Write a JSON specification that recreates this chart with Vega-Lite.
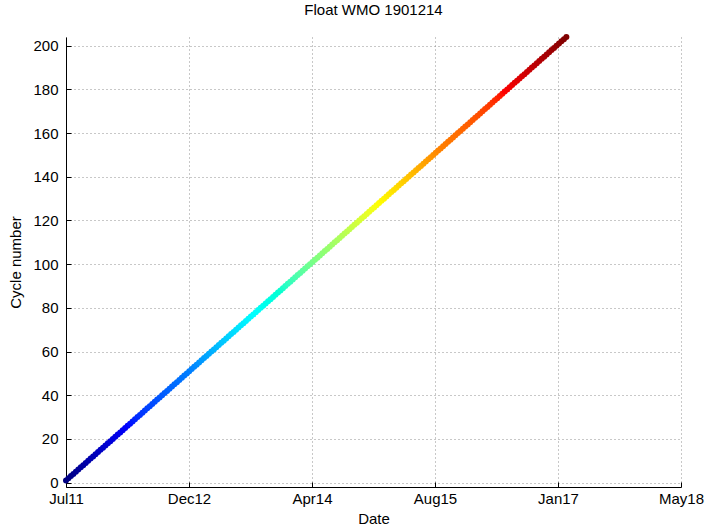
{
 "$schema": "https://vega.github.io/schema/vega-lite/v6.json",
 "width": 615,
 "height": 450,
 "autosize": {"type": "none"},
 "padding": {"left": 66, "top": 37, "right": 31, "bottom": 43},
 "background": "white",
 "title": {"text": "Float WMO 1901214", "fontSize": 15, "fontWeight": "normal", "font": "Liberation Sans", "color": "black", "offset": 16},
 "config": {
  "view": {"stroke": null},
  "axis": {
   "domainColor": "black", "domainWidth": 1,
   "tickColor": "black", "tickSize": -5, "tickWidth": 1,
   "labelFont": "Liberation Sans", "labelFontSize": 15, "labelColor": "black",
   "titleFont": "Liberation Sans", "titleFontSize": 15, "titleFontWeight": "normal", "titleColor": "black",
   "grid": true, "gridColor": "#909090", "gridDash": [1, 3], "gridOpacity": 1, "gridWidth": 1
  }
 },
 "data": {"values": [
  {"date": "2011-07-22", "cycle": 1},
  {"date": "2011-08-01", "cycle": 2},
  {"date": "2011-08-11", "cycle": 3},
  {"date": "2011-08-21", "cycle": 4},
  {"date": "2011-08-31", "cycle": 5},
  {"date": "2011-09-10", "cycle": 6},
  {"date": "2011-09-20", "cycle": 7},
  {"date": "2011-09-30", "cycle": 8},
  {"date": "2011-10-10", "cycle": 9},
  {"date": "2011-10-20", "cycle": 10},
  {"date": "2011-10-30", "cycle": 11},
  {"date": "2011-11-09", "cycle": 12},
  {"date": "2011-11-19", "cycle": 13},
  {"date": "2011-11-29", "cycle": 14},
  {"date": "2011-12-09", "cycle": 15},
  {"date": "2011-12-19", "cycle": 16},
  {"date": "2011-12-29", "cycle": 17},
  {"date": "2012-01-08", "cycle": 18},
  {"date": "2012-01-18", "cycle": 19},
  {"date": "2012-01-28", "cycle": 20},
  {"date": "2012-02-07", "cycle": 21},
  {"date": "2012-02-17", "cycle": 22},
  {"date": "2012-02-27", "cycle": 23},
  {"date": "2012-03-08", "cycle": 24},
  {"date": "2012-03-18", "cycle": 25},
  {"date": "2012-03-28", "cycle": 26},
  {"date": "2012-04-07", "cycle": 27},
  {"date": "2012-04-17", "cycle": 28},
  {"date": "2012-04-27", "cycle": 29},
  {"date": "2012-05-07", "cycle": 30},
  {"date": "2012-05-17", "cycle": 31},
  {"date": "2012-05-27", "cycle": 32},
  {"date": "2012-06-06", "cycle": 33},
  {"date": "2012-06-16", "cycle": 34},
  {"date": "2012-06-26", "cycle": 35},
  {"date": "2012-07-06", "cycle": 36},
  {"date": "2012-07-16", "cycle": 37},
  {"date": "2012-07-26", "cycle": 38},
  {"date": "2012-08-05", "cycle": 39},
  {"date": "2012-08-15", "cycle": 40},
  {"date": "2012-08-25", "cycle": 41},
  {"date": "2012-09-04", "cycle": 42},
  {"date": "2012-09-14", "cycle": 43},
  {"date": "2012-09-24", "cycle": 44},
  {"date": "2012-10-04", "cycle": 45},
  {"date": "2012-10-14", "cycle": 46},
  {"date": "2012-10-24", "cycle": 47},
  {"date": "2012-11-03", "cycle": 48},
  {"date": "2012-11-13", "cycle": 49},
  {"date": "2012-11-23", "cycle": 50},
  {"date": "2012-12-03", "cycle": 51},
  {"date": "2012-12-13", "cycle": 52},
  {"date": "2012-12-23", "cycle": 53},
  {"date": "2013-01-02", "cycle": 54},
  {"date": "2013-01-12", "cycle": 55},
  {"date": "2013-01-22", "cycle": 56},
  {"date": "2013-02-01", "cycle": 57},
  {"date": "2013-02-11", "cycle": 58},
  {"date": "2013-02-21", "cycle": 59},
  {"date": "2013-03-03", "cycle": 60},
  {"date": "2013-03-13", "cycle": 61},
  {"date": "2013-03-23", "cycle": 62},
  {"date": "2013-04-02", "cycle": 63},
  {"date": "2013-04-12", "cycle": 64},
  {"date": "2013-04-22", "cycle": 65},
  {"date": "2013-05-02", "cycle": 66},
  {"date": "2013-05-12", "cycle": 67},
  {"date": "2013-05-22", "cycle": 68},
  {"date": "2013-06-01", "cycle": 69},
  {"date": "2013-06-11", "cycle": 70},
  {"date": "2013-06-21", "cycle": 71},
  {"date": "2013-07-01", "cycle": 72},
  {"date": "2013-07-11", "cycle": 73},
  {"date": "2013-07-21", "cycle": 74},
  {"date": "2013-07-31", "cycle": 75},
  {"date": "2013-08-10", "cycle": 76},
  {"date": "2013-08-20", "cycle": 77},
  {"date": "2013-08-30", "cycle": 78},
  {"date": "2013-09-09", "cycle": 79},
  {"date": "2013-09-19", "cycle": 80},
  {"date": "2013-09-29", "cycle": 81},
  {"date": "2013-10-09", "cycle": 82},
  {"date": "2013-10-19", "cycle": 83},
  {"date": "2013-10-29", "cycle": 84},
  {"date": "2013-11-08", "cycle": 85},
  {"date": "2013-11-18", "cycle": 86},
  {"date": "2013-11-28", "cycle": 87},
  {"date": "2013-12-08", "cycle": 88},
  {"date": "2013-12-18", "cycle": 89},
  {"date": "2013-12-28", "cycle": 90},
  {"date": "2014-01-07", "cycle": 91},
  {"date": "2014-01-17", "cycle": 92},
  {"date": "2014-01-27", "cycle": 93},
  {"date": "2014-02-06", "cycle": 94},
  {"date": "2014-02-16", "cycle": 95},
  {"date": "2014-02-26", "cycle": 96},
  {"date": "2014-03-08", "cycle": 97},
  {"date": "2014-03-18", "cycle": 98},
  {"date": "2014-03-28", "cycle": 99},
  {"date": "2014-04-07", "cycle": 100},
  {"date": "2014-04-17", "cycle": 101},
  {"date": "2014-04-27", "cycle": 102},
  {"date": "2014-05-07", "cycle": 103},
  {"date": "2014-05-17", "cycle": 104},
  {"date": "2014-05-27", "cycle": 105},
  {"date": "2014-06-06", "cycle": 106},
  {"date": "2014-06-16", "cycle": 107},
  {"date": "2014-06-26", "cycle": 108},
  {"date": "2014-07-06", "cycle": 109},
  {"date": "2014-07-16", "cycle": 110},
  {"date": "2014-07-26", "cycle": 111},
  {"date": "2014-08-05", "cycle": 112},
  {"date": "2014-08-15", "cycle": 113},
  {"date": "2014-08-25", "cycle": 114},
  {"date": "2014-09-04", "cycle": 115},
  {"date": "2014-09-14", "cycle": 116},
  {"date": "2014-09-24", "cycle": 117},
  {"date": "2014-10-04", "cycle": 118},
  {"date": "2014-10-14", "cycle": 119},
  {"date": "2014-10-24", "cycle": 120},
  {"date": "2014-11-03", "cycle": 121},
  {"date": "2014-11-13", "cycle": 122},
  {"date": "2014-11-23", "cycle": 123},
  {"date": "2014-12-03", "cycle": 124},
  {"date": "2014-12-13", "cycle": 125},
  {"date": "2014-12-23", "cycle": 126},
  {"date": "2015-01-02", "cycle": 127},
  {"date": "2015-01-12", "cycle": 128},
  {"date": "2015-01-22", "cycle": 129},
  {"date": "2015-02-01", "cycle": 130},
  {"date": "2015-02-11", "cycle": 131},
  {"date": "2015-02-21", "cycle": 132},
  {"date": "2015-03-03", "cycle": 133},
  {"date": "2015-03-13", "cycle": 134},
  {"date": "2015-03-23", "cycle": 135},
  {"date": "2015-04-02", "cycle": 136},
  {"date": "2015-04-12", "cycle": 137},
  {"date": "2015-04-22", "cycle": 138},
  {"date": "2015-05-02", "cycle": 139},
  {"date": "2015-05-12", "cycle": 140},
  {"date": "2015-05-22", "cycle": 141},
  {"date": "2015-06-01", "cycle": 142},
  {"date": "2015-06-11", "cycle": 143},
  {"date": "2015-06-21", "cycle": 144},
  {"date": "2015-07-01", "cycle": 145},
  {"date": "2015-07-11", "cycle": 146},
  {"date": "2015-07-21", "cycle": 147},
  {"date": "2015-07-31", "cycle": 148},
  {"date": "2015-08-10", "cycle": 149},
  {"date": "2015-08-20", "cycle": 150},
  {"date": "2015-08-30", "cycle": 151},
  {"date": "2015-09-09", "cycle": 152},
  {"date": "2015-09-19", "cycle": 153},
  {"date": "2015-09-29", "cycle": 154},
  {"date": "2015-10-09", "cycle": 155},
  {"date": "2015-10-19", "cycle": 156},
  {"date": "2015-10-29", "cycle": 157},
  {"date": "2015-11-08", "cycle": 158},
  {"date": "2015-11-18", "cycle": 159},
  {"date": "2015-11-28", "cycle": 160},
  {"date": "2015-12-08", "cycle": 161},
  {"date": "2015-12-18", "cycle": 162},
  {"date": "2015-12-28", "cycle": 163},
  {"date": "2016-01-07", "cycle": 164},
  {"date": "2016-01-17", "cycle": 165},
  {"date": "2016-01-27", "cycle": 166},
  {"date": "2016-02-06", "cycle": 167},
  {"date": "2016-02-16", "cycle": 168},
  {"date": "2016-02-26", "cycle": 169},
  {"date": "2016-03-07", "cycle": 170},
  {"date": "2016-03-17", "cycle": 171},
  {"date": "2016-03-27", "cycle": 172},
  {"date": "2016-04-06", "cycle": 173},
  {"date": "2016-04-16", "cycle": 174},
  {"date": "2016-04-26", "cycle": 175},
  {"date": "2016-05-06", "cycle": 176},
  {"date": "2016-05-16", "cycle": 177},
  {"date": "2016-05-26", "cycle": 178},
  {"date": "2016-06-05", "cycle": 179},
  {"date": "2016-06-15", "cycle": 180},
  {"date": "2016-06-25", "cycle": 181},
  {"date": "2016-07-05", "cycle": 182},
  {"date": "2016-07-15", "cycle": 183},
  {"date": "2016-07-25", "cycle": 184},
  {"date": "2016-08-04", "cycle": 185},
  {"date": "2016-08-14", "cycle": 186},
  {"date": "2016-08-24", "cycle": 187},
  {"date": "2016-09-03", "cycle": 188},
  {"date": "2016-09-13", "cycle": 189},
  {"date": "2016-09-23", "cycle": 190},
  {"date": "2016-10-03", "cycle": 191},
  {"date": "2016-10-13", "cycle": 192},
  {"date": "2016-10-23", "cycle": 193},
  {"date": "2016-11-02", "cycle": 194},
  {"date": "2016-11-12", "cycle": 195},
  {"date": "2016-11-22", "cycle": 196},
  {"date": "2016-12-02", "cycle": 197},
  {"date": "2016-12-12", "cycle": 198},
  {"date": "2016-12-22", "cycle": 199},
  {"date": "2017-01-01", "cycle": 200},
  {"date": "2017-01-11", "cycle": 201},
  {"date": "2017-01-21", "cycle": 202},
  {"date": "2017-01-31", "cycle": 203},
  {"date": "2017-02-10", "cycle": 204}
 ]},
 "mark": {"type": "point", "filled": true, "shape": "circle", "size": 36, "opacity": 1},
 "encoding": {
  "x": {
   "field": "date", "type": "temporal",
   "scale": {"type": "utc", "domain": [{"year": 2011, "month": 7, "date": 22, "utc": true}, {"year": 2018, "month": 5, "date": 21, "utc": true}]},
   "axis": {
    "values": [
     {"year": 2011, "month": 7, "date": 22, "utc": true},
     {"year": 2012, "month": 12, "date": 2, "utc": true},
     {"year": 2014, "month": 4, "date": 15, "utc": true},
     {"year": 2015, "month": 8, "date": 27, "utc": true},
     {"year": 2017, "month": 1, "date": 7, "utc": true},
     {"year": 2018, "month": 5, "date": 21, "utc": true}
    ],
    "labelExpr": "utcFormat(datum.value, '%b%y')", "title": "Date", "labelPadding": 9, "titlePadding": 5, "labelFlush": false
   }
  },
  "y": {
   "field": "cycle", "type": "quantitative",
   "scale": {"domain": [-2, 204], "nice": false, "zero": false},
   "axis": {"values": [0, 20, 40, 60, 80, 100, 120, 140, 160, 180, 200], "title": "Cycle number", "labelPadding": 13, "titlePadding": 9}
  },
  "color": {
   "field": "cycle", "type": "quantitative",
   "scale": {"domain": [1, 204], "range": ["#000080", "#0000ff", "#0080ff", "#00ffff", "#80ff80", "#ffff00", "#ff8000", "#ff0000", "#800000"]},
   "legend": null
  }
 }
}
